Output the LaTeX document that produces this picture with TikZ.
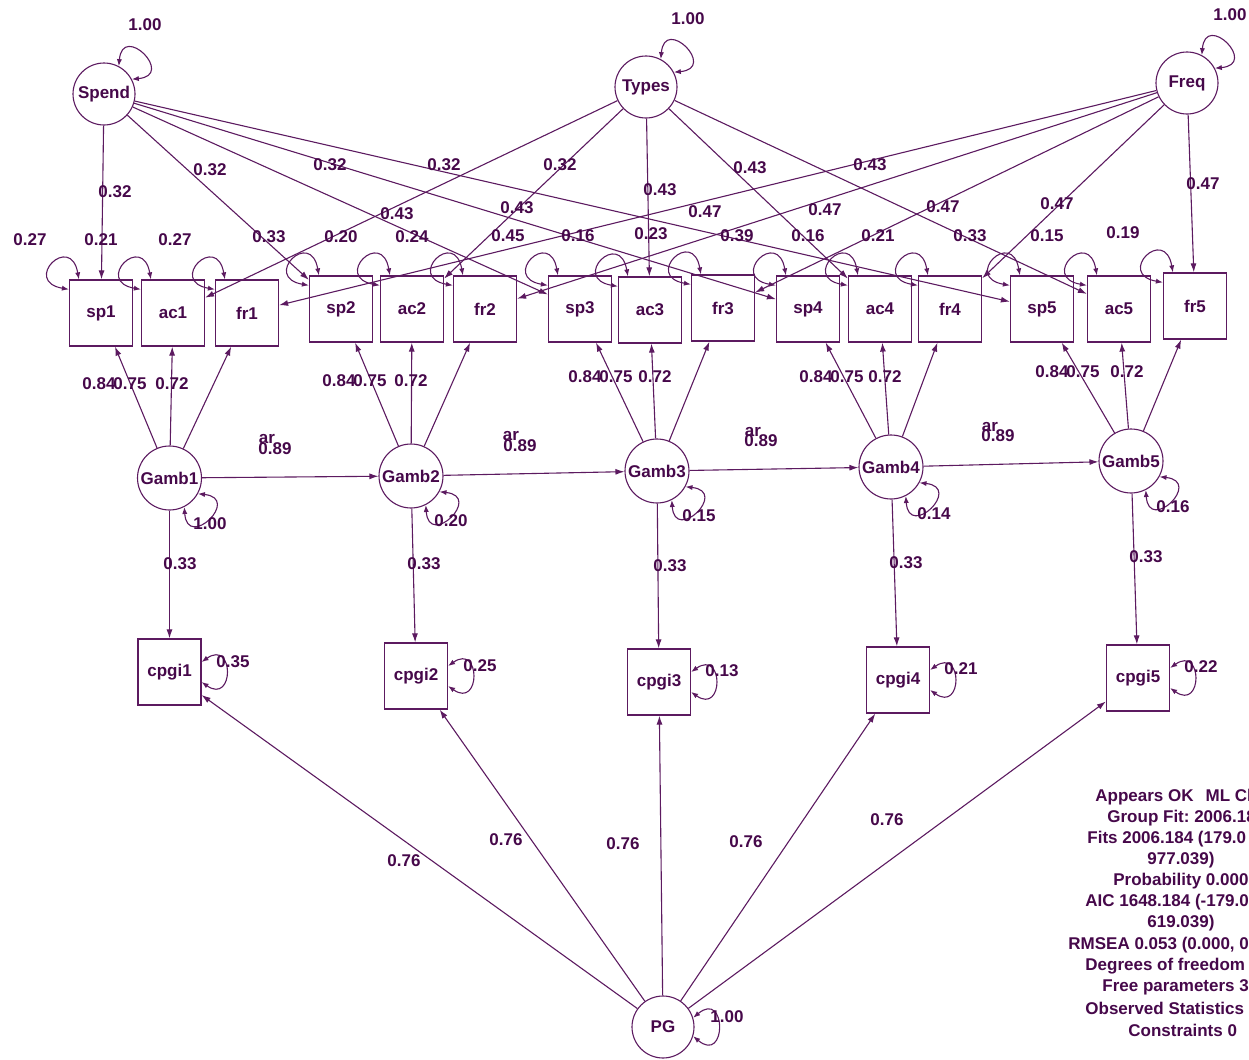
\documentclass[tikz,border=0pt]{standalone}
\usepackage{fontspec}
\setmainfont{Liberation Sans}
\usetikzlibrary{arrows.meta,calc}
\definecolor{lc}{RGB}{92,26,96}
\definecolor{tc}{RGB}{70,8,74}
\frenchspacing
\begin{document}
\begin{tikzpicture}[x=0.5pt,y=-0.5pt,
  every node/.style={font=\fontsize{8.5}{10}\selectfont\bfseries, text=tc, inner sep=0pt},
  lat/.style={draw=lc, line width=0.55pt, circle, minimum size=31pt},
  gmb/.style={draw=lc, line width=0.55pt, circle, minimum size=32pt},
  obs/.style={draw=lc, line width=0.6pt, rectangle, minimum width=31.5pt, minimum height=33pt},
  pth/.style={draw=lc, line width=0.55pt, -{Latex[length=4.5pt,width=3pt]}},
  selfl/.style={draw=lc, line width=0.55pt, {Latex[length=3.5pt,width=2.6pt]}-{Latex[length=3.5pt,width=2.6pt]}},
]
\useasboundingbox (0,0) rectangle (1249,1060);

% latent variables
\node[lat] (Spend) at (104,94) {Spend};
\node[lat] (Types) at (646,87) {Types};
\node[lat] (Freq) at (1187,83) {Freq};
\node[lat] (PG) at (663,1027) {PG};
\foreach \n/\x/\y in {Gamb1/169.5/478, Gamb2/411/476, Gamb3/657/471, Gamb4/891/467, Gamb5/1131/461}
  \node[gmb] (\n) at (\x,\y) {\n};

% observed variables
\foreach \n/\x/\y in {sp1/101/313, ac1/173/313, fr1/247/313, sp2/341/309, ac2/412/309, fr2/485/309,
  sp3/580/309, ac3/650/310, fr3/723/308, sp4/808/309, ac4/880/309, fr4/950/309,
  sp5/1042/309, ac5/1119/309, fr5/1195/306,
  cpgi1/169.5/672, cpgi2/416/676, cpgi3/659/682, cpgi4/898/680, cpgi5/1138/678}
  \node[obs] (\n) at (\x,\y) {\n};

% paths
\foreach \i in {1,...,5} {
  \draw[pth] (Spend) -- (sp\i);
  \draw[pth] (Types) -- (ac\i);
  \draw[pth] (Freq) -- (fr\i);
  \draw[pth] (Gamb\i) -- (sp\i);
  \draw[pth] (Gamb\i) -- (ac\i);
  \draw[pth] (Gamb\i) -- (fr\i);
  \draw[pth] (Gamb\i) -- (cpgi\i);
  \draw[pth] (PG) -- (cpgi\i);
  \draw[selfl] (Gamb\i.-29) .. controls +(-6:22pt) and +(-86:22pt) .. (Gamb\i.-63);
  \draw[selfl] ($(cpgi\i.east)+(0,-10)$) .. controls +(35:20pt) and +(-35:20pt) .. ($(cpgi\i.east)+(0,10)$);
}
\foreach \i/\j in {1/2,2/3,3/4,4/5}
  \draw[pth] (Gamb\i) -- (Gamb\j);

% self loops on indicator boxes
\foreach \n in {sp1,ac1,fr1,sp2,ac2,fr2,sp3,ac3,fr3,sp4,ac4,fr4,sp5,ac5,fr5}
  \draw[selfl] ($(\n.north west)+(10,0)$) .. controls +(100:24pt) and +(170:24pt) .. ($(\n.north west)+(0,10)$);

% self loops on latent factors
\foreach \n in {Spend,Types,Freq}
  \draw[selfl] (\n.62) .. controls +(85:22pt) and +(5:22pt) .. (\n.28);
\draw[selfl] (PG.17) .. controls +(40:22pt) and +(-40:22pt) .. (PG.-17);

% labels
\foreach \x/\y/\t in {145/25/1.00, 688/19/1.00, 1230/15/1.00,
  115/192/0.32, 210/170/0.32, 330/165/0.32, 444/165/0.32, 560/165/0.32,
  397/214/0.43, 517/208/0.43, 660/190/0.43, 750/168/0.43, 870/165/0.43,
  705/212/0.47, 825/210/0.47, 943/207/0.47, 1057/204/0.47, 1203/184/0.47,
  30/240/0.27, 101/240/0.21, 175/240/0.27, 269/237/0.33, 341/237/0.20, 412/237/0.24,
  508/236/0.45, 578/236/0.16, 651/234/0.23, 737/236/0.39, 808/236/0.16, 878/236/0.21,
  970/236/0.33, 1047/236/0.15, 1123/233/0.19,
  99/384/0.84, 130/384/0.75, 172/384/0.72,
  339/381/0.84, 370/381/0.75, 411/381/0.72,
  585/377/0.84, 616/377/0.75, 655/377/0.72,
  816/377/0.84, 847/377/0.75, 885/377/0.72,
  1052/372/0.84, 1083/372/0.75, 1127/372/0.72,
  267/439/ar, 275/449/0.89, 511/436/ar, 520/446/0.89,
  753/432/ar, 761/441/0.89, 990/427/ar, 998/436/0.89,
  210/524/1.00, 451/521/0.20, 699/516/0.15, 934/514/0.14, 1173/507/0.16,
  180/564/0.33, 424/564/0.33, 670/566/0.33, 906/563/0.33, 1146/557/0.33,
  233/662/0.35, 480/666/0.25, 722/671/0.13, 961/669/0.21, 1201/667/0.22,
  404/861/0.76, 506/840/0.76, 623/844/0.76, 746/842/0.76, 887/820/0.76,
  727/1017/1.00}
  \node at (\x,\y) {\t};

% fit statistics (cut off at the right edge, as in the source)
\begin{scope}
\clip (0,0) rectangle (1249,1060);
\foreach \x/\y/\t in {1095/797/{Appears OK\hspace{6pt}ML Ch}, 1107/818/{Group Fit: 2006.18},
  1087/839/{Fits 2006.184 (179.0}, 1147/860/{977.039)}, 1113/881/{Probability 0.000},
  1085/902/{AIC 1648.184 (-179.0}, 1147/923/{619.039)}, 1068/945/{RMSEA 0.053 (0.000, 0},
  1085/966/{Degrees of freedom}, 1102/987/{Free parameters 3}, 1085/1008/{Observed Statistics},
  1128/1030/{Constraints 0}}
  \node[anchor=west] at (\x,\y) {\t};
\end{scope}
\end{tikzpicture}
\end{document}
